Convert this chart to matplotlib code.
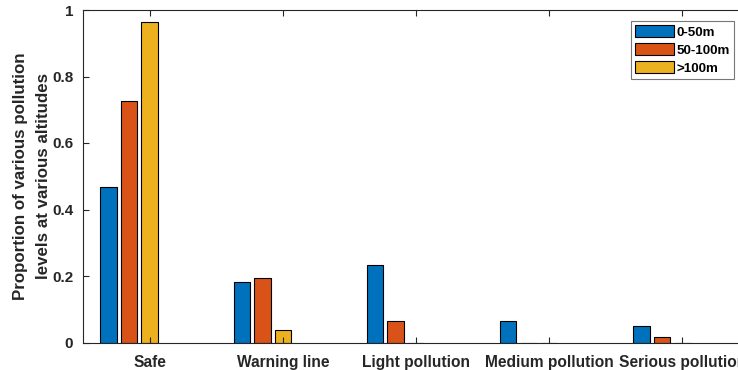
import matplotlib
matplotlib.use('Agg')
import matplotlib.pyplot as plt
import numpy as np

# data
categories = ['Safe', 'Warning line', 'Light pollution', 'Medium pollution', 'Serious pollution']
series_names = ['0-50m', '50-100m', '>100m']
h_0_50 = [0.468, 0.182, 0.234, 0.065, 0.050]
h_50_100 = [0.726, 0.194, 0.065, 0.0, 0.016]
h_100 = [0.963, 0.038, 0.0, 0.0, 0.0]
y_ticks = [0, 0.2, 0.4, 0.6, 0.8, 1]
y_tick_labels = ['0', '0.2', '0.4', '0.6', '0.8', '1']

plt.rcParams['font.family'] = ['Liberation Sans', 'DejaVu Sans']
plt.rcParams['font.weight'] = 'bold'

colors = ['#0072BD', '#D95319', '#EDB120']
axis_color = '#262626'

fig = plt.figure(figsize=(7.38, 3.70), dpi=100)
# the axes run past the right edge of the figure, as in the reference
ax = fig.add_axes([83 / 738, 27.5 / 370, 666 / 738, 332.5 / 370])

x = np.arange(1, len(categories) + 1)
# MATLAB-style grouping of 5 slots, only the first three are used
step = 0.769 / 5
width = 0.8 * step
for i, vals in enumerate([h_0_50, h_50_100, h_100]):
    ax.bar(x + (i - 2) * step, vals, width, color=colors[i], edgecolor='black',
           linewidth=0.8, label=series_names[i])

ax.set_xlim(0.5, 5.5)
ax.set_ylim(0, 1)
ax.set_xticks(x)
ax.set_xticklabels(categories, fontsize=11.2, fontweight='bold')
ax.set_yticks(y_ticks)
ax.set_yticklabels(y_tick_labels, fontsize=11, fontweight='bold')
ax.tick_params(direction='in', top=True, right=True, length=4, width=0.8,
               colors=axis_color, labelcolor=axis_color)
ax.tick_params(axis='x', pad=9)
ax.tick_params(axis='y', pad=7)
for s in ax.spines.values():
    s.set_color(axis_color)
    s.set_linewidth(0.8)

ax.set_ylabel('Proportion of various pollution\nlevels at various altitudes',
              fontsize=12.2, fontweight='bold', color=axis_color, linespacing=1.65,
              labelpad=1)

leg = fig.legend(loc='upper right', bbox_to_anchor=(734 / 738, 1 - 21 / 370),
                 prop={'weight': 'bold', 'size': 9.6}, frameon=True,
                 fancybox=False, framealpha=1, edgecolor='#777777',
                 handlelength=2.9, handleheight=1.0, labelspacing=0.35,
                 handletextpad=0.2, borderpad=0.3, borderaxespad=0)
leg.get_frame().set_linewidth(0.8)

fig.savefig('out.png', dpi=100)
